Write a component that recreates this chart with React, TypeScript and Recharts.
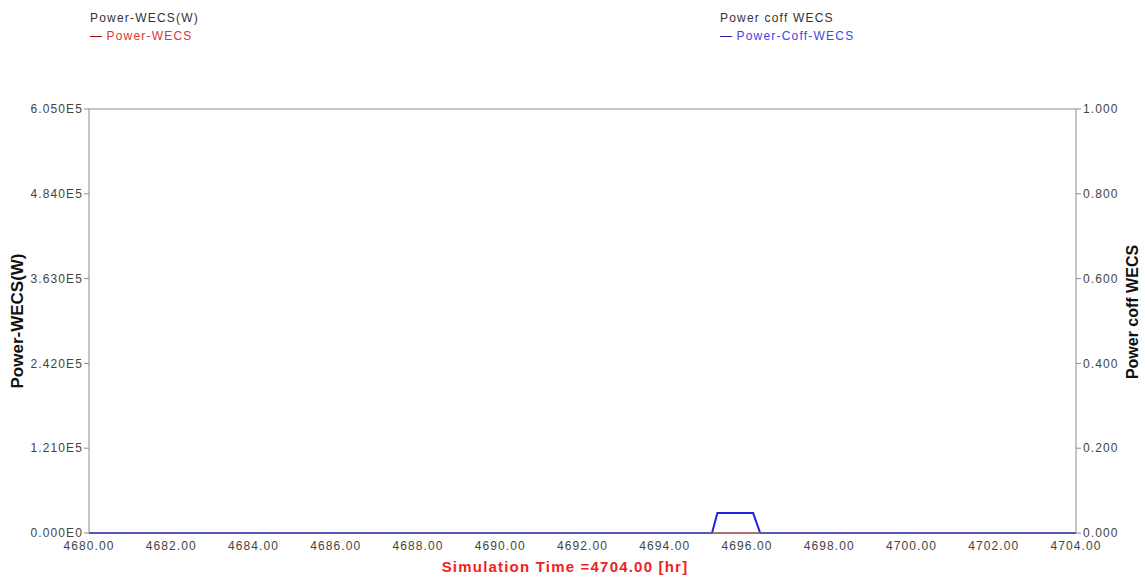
import React from 'react';
import { LineChart, Line, XAxis, YAxis, ReferenceLine } from 'recharts';

const timeTicks = [4680, 4682, 4684, 4686, 4688, 4690, 4692, 4694, 4696, 4698, 4700, 4702, 4704];
const powerTicks = [0, 121000, 242000, 363000, 484000, 605000];
const powerTickLabels = ['0.000E0', '1.210E5', '2.420E5', '3.630E5', '4.840E5', '6.050E5'];
const coffTicks = [0, 0.2, 0.4, 0.6, 0.8, 1.0];
const coffTickLabels = ['0.000', '0.200', '0.400', '0.600', '0.800', '1.000'];

const times = [4680, 4695.15, 4695.28, 4696.15, 4696.32, 4704];
const powerWecs = [0, 0, 0, 0, 0, 0];
const powerCoffWecs = [0, 0, 0.047, 0.047, 0, 0];

const data = times.map((t, i) => ({ t, p: powerWecs[i], c: powerCoffWecs[i] }));

const FONT = '"Liberation Sans", Arial, sans-serif';
const tickStyle = { fontSize: 12, fill: '#444', fontFamily: FONT, letterSpacing: 1.1 };

export default function App() {
  return (
    <div style={{ position: 'absolute', left: 0, top: 0, width: 1145, height: 580, background: '#fff', fontFamily: FONT }}>
      <LineChart width={1145} height={580} data={data} margin={{ top: 109, right: 0, bottom: 0, left: 0 }}>
        <XAxis
          dataKey="t"
          type="number"
          domain={[4680, 4704]}
          ticks={timeTicks}
          tickFormatter={(v: number) => v.toFixed(2)}
          interval={0}
          height={47}
          stroke="#8a8a8a"
          tickLine={false}
          tickSize={4}
          tickMargin={4}
          tick={tickStyle}
        />
        <YAxis
          yAxisId="left"
          domain={[0, 605000]}
          ticks={powerTicks}
          tickFormatter={(v: number) => powerTickLabels[powerTicks.indexOf(v)]}
          interval={0}
          width={89}
          stroke="#8a8a8a"
          tickSize={5}
          tickMargin={1}
          tick={tickStyle}
        />
        <YAxis
          yAxisId="right"
          orientation="right"
          domain={[0, 1]}
          ticks={coffTicks}
          tickFormatter={(v: number) => coffTickLabels[coffTicks.indexOf(v)]}
          interval={0}
          width={69}
          stroke="#8a8a8a"
          tickSize={5}
          tickMargin={2}
          tick={tickStyle}
        />
        <ReferenceLine yAxisId="left" y={605000} stroke="#8a8a8a" />
        <Line yAxisId="left" dataKey="p" stroke="#cc2222" strokeWidth={1.5} dot={false} isAnimationActive={false} />
        <Line yAxisId="right" dataKey="c" stroke="#2222dd" strokeWidth={2} dot={false} isAnimationActive={false} />
      </LineChart>

      <div style={{ position: 'absolute', left: 90, top: 9, fontSize: 12, letterSpacing: 1.2, color: '#333', lineHeight: '18px' }}>
        <div>Power-WECS(W)</div>
        <div style={{ color: '#dd3333' }}><span style={{ color: '#aa1111', letterSpacing: 0 }}>—</span> Power-WECS</div>
      </div>
      <div style={{ position: 'absolute', left: 720, top: 9, fontSize: 12, letterSpacing: 1.2, color: '#333', lineHeight: '18px' }}>
        <div>Power coff WECS</div>
        <div style={{ color: '#4444ee' }}><span style={{ color: '#2222aa', letterSpacing: 0 }}>—</span> Power-Coff-WECS</div>
      </div>

      <div style={{ position: 'absolute', left: 18, top: 321, transform: 'translate(-50%, -50%) rotate(-90deg)', whiteSpace: 'nowrap', fontSize: 17, fontWeight: 'bold', color: '#111' }}>
        Power-WECS(W)
      </div>
      <div style={{ position: 'absolute', left: 1133, top: 312, transform: 'translate(-50%, -50%) rotate(-90deg)', whiteSpace: 'nowrap', fontSize: 16, fontWeight: 'bold', color: '#111' }}>
        Power coff WECS
      </div>
      <div style={{ position: 'absolute', left: 565, top: 566, transform: 'translate(-50%, -50%)', whiteSpace: 'nowrap', fontSize: 15, letterSpacing: 1.2, fontWeight: 'bold', color: '#ee2222' }}>
        Simulation Time =4704.00 [hr]
      </div>
    </div>
  );
}
